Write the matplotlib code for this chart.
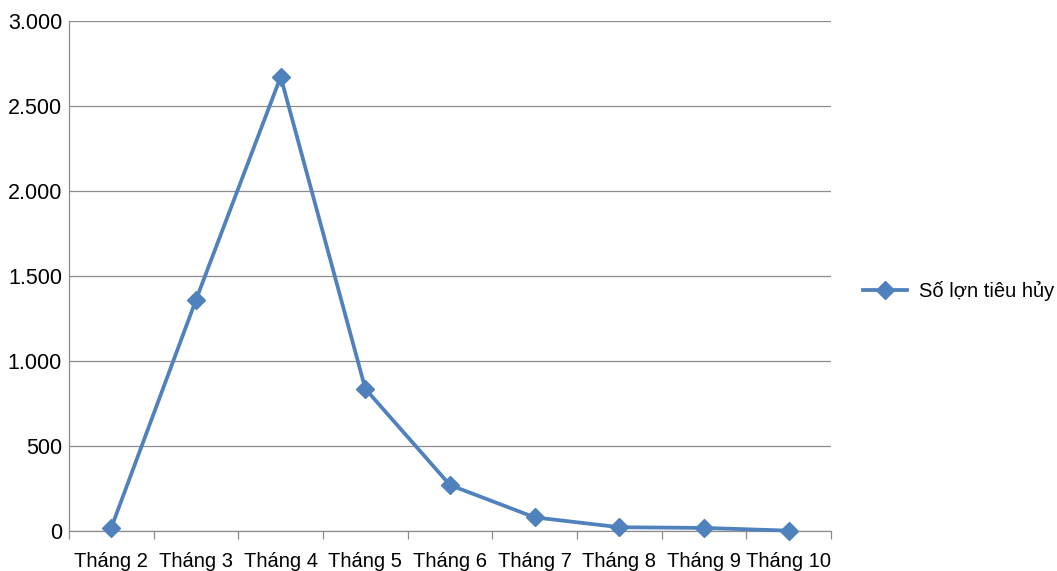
import matplotlib.pyplot as plt
from matplotlib.ticker import FuncFormatter, FixedLocator
import numpy as np

# du lieu
thang = ['Tháng 2', 'Tháng 3', 'Tháng 4', 'Tháng 5', 'Tháng 6',
         'Tháng 7', 'Tháng 8', 'Tháng 9', 'Tháng 10']
so_lon = [20, 1360, 2672, 836, 270, 80, 22, 18, 2]
ten_series = 'Số lợn tiêu hủy'

plt.rcParams['font.family'] = ['Liberation Sans', 'DejaVu Sans']

fig = plt.figure(figsize=(10.57, 5.71), dpi=100)
ax = fig.add_axes([0.0653, 0.0701, 0.7209, 0.8931])

x = np.arange(len(thang))
ax.plot(x, so_lon, color='#4F81BD', lw=2.7, marker='D', markersize=9,
        label=ten_series, zorder=3, clip_on=False)

ax.set_xlim(-0.5, len(thang) - 0.5)
ax.set_ylim(0, 3000)
ax.set_yticks(range(0, 3001, 500))
ax.yaxis.set_major_formatter(FuncFormatter(lambda v, p: f'{int(v):,}'.replace(',', '.')))
ax.grid(axis='y', color='#8c8c8c', lw=0.9)
ax.set_axisbelow(True)

ax.set_xticks(x)
ax.set_xticklabels(thang)
ax.xaxis.set_minor_locator(FixedLocator(np.arange(-0.5, len(thang), 1)))
ax.tick_params(axis='x', which='major', length=0, pad=15, labelsize=14.5)
ax.tick_params(axis='x', which='minor', length=6, color='#8c8c8c', width=0.9)
ax.tick_params(axis='y', length=0, pad=5, labelsize=15.5)

for s in ['top', 'right']:
    ax.spines[s].set_visible(False)
for s in ['left', 'bottom']:
    ax.spines[s].set_color('#8c8c8c')
    ax.spines[s].set_linewidth(0.9)

fig.legend(loc='center left', bbox_to_anchor=(0.799, 0.49), frameon=False,
           fontsize=14.5, handlelength=2.2, handletextpad=0.6)

fig.savefig('out.png', dpi=100)
